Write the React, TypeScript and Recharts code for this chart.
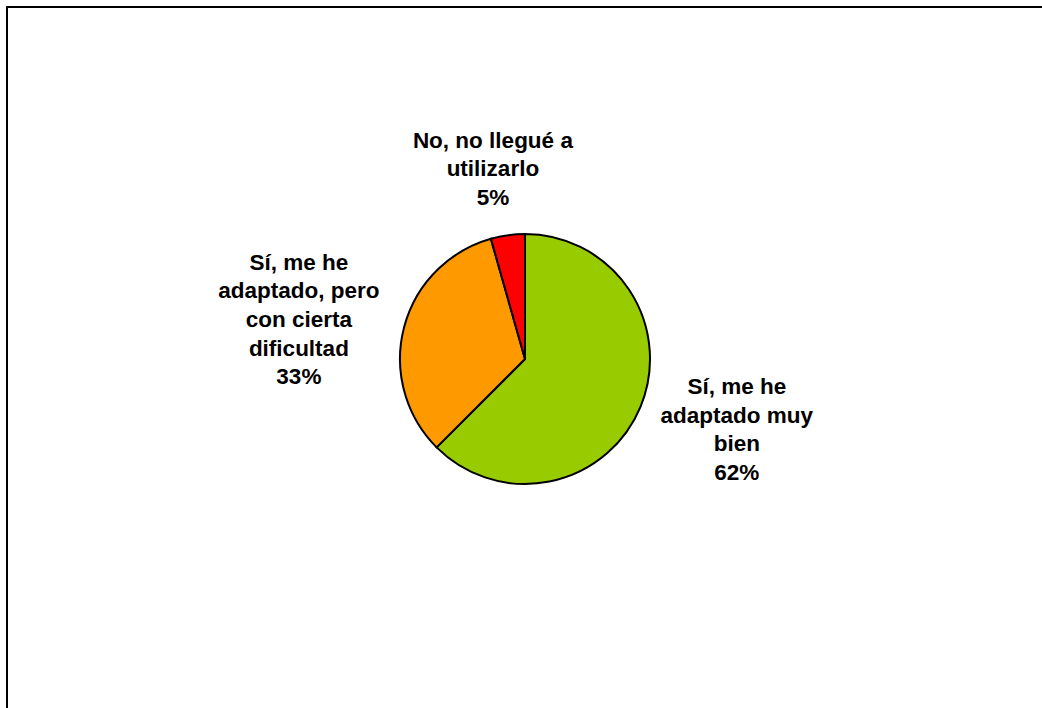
import { PieChart, Pie, Cell } from 'recharts';

const categories = [
  'Sí, me he adaptado muy bien',
  'Sí, me he adaptado, pero con cierta dificultad',
  'No, no llegué a utilizarlo',
];
const values = [62.5, 33.1, 4.4];
const percentLabels = ['62%', '33%', '5%'];
const labelLines = [
  ['Sí, me he', 'adaptado muy', 'bien'],
  ['Sí, me he', 'adaptado, pero', 'con cierta', 'dificultad'],
  ['No, no llegué a', 'utilizarlo'],
];
const colors = ['#99CC00', '#FF9900', '#FF0000'];

const data = categories.map((name, i) => ({ name, value: values[i] }));

const FONT = 'bold 22.5px "Liberation Sans", Arial, sans-serif';
const LINE_H = 28.7;
const RAD = Math.PI / 180;

let ctx: CanvasRenderingContext2D | null = null;
const textWidth = (s: string) => {
  if (!ctx) ctx = document.createElement('canvas').getContext('2d');
  if (!ctx) return s.length * 11;
  ctx.font = FONT;
  return ctx.measureText(s).width;
};

// label block sits just outside the slice, pushed away along the mid angle
const renderLabel = (props: any) => {
  const { cx, cy, midAngle, outerRadius, index } = props;
  const lines = [...labelLines[index], percentLabels[index]];
  const w = Math.max(...lines.map(textWidth));
  const h = lines.length * LINE_H;
  const cos = Math.cos(-midAngle * RAD);
  const sin = Math.sin(-midAngle * RAD);
  const r = outerRadius + 28;
  const bx = cx + r * cos + (cos * w) / 2;
  const by = cy + r * sin + (sin * Math.abs(sin) * h) / 2;
  const firstBase = by - ((lines.length - 1) * LINE_H) / 2 + 11;
  return (
    <text key={`lbl-${index}`} textAnchor="middle" fill="#000" style={{ font: FONT }}>
      {lines.map((ln, i) => (
        <tspan key={i} x={bx} y={firstBase + i * LINE_H}>
          {ln}
        </tspan>
      ))}
    </text>
  );
};

export default function App() {
  return (
    <div style={{ position: 'fixed', left: 0, top: 0, width: 1042, height: 708, overflow: 'hidden', background: '#fff' }}>
      <div
        style={{
          position: 'absolute',
          left: 6,
          top: 6,
          width: 1100,
          height: 800,
          borderTop: '2px solid #000',
          borderLeft: '2px solid #000',
        }}
      />
      <div style={{ position: 'absolute', left: 0, top: 0 }}>
        <PieChart width={1042} height={708} margin={{ top: 0, right: 0, bottom: 0, left: 0 }}>
          <Pie
            data={data}
            dataKey="value"
            nameKey="name"
            cx={525}
            cy={359}
            outerRadius={125}
            startAngle={90}
            endAngle={-270}
            stroke="#000"
            strokeWidth={2}
            label={renderLabel}
            labelLine={false}
            isAnimationActive={false}
          >
            {data.map((d, i) => (
              <Cell key={d.name} fill={colors[i]} />
            ))}
          </Pie>
        </PieChart>
      </div>
    </div>
  );
}
